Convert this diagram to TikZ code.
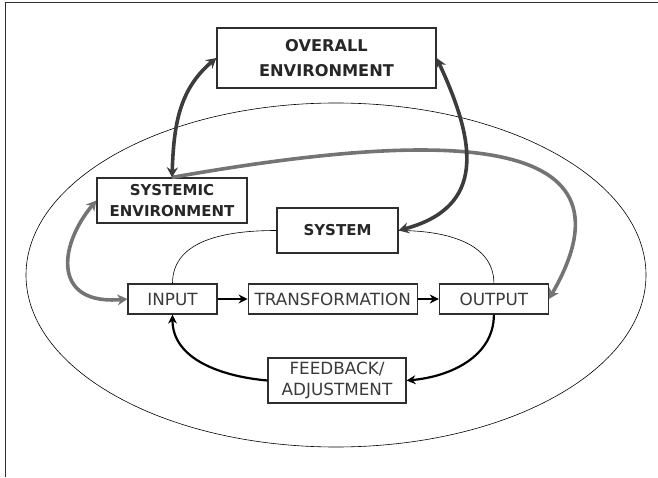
\documentclass[tikz,border=0pt]{standalone}
\usepackage{fontspec}
\setmainfont{DejaVu Sans}
\usepackage{xcolor}
\usepackage{tikz}
\usetikzlibrary{arrows.meta,positioning}

\definecolor{boxline}{HTML}{2E2E2E}
\definecolor{labeltext}{HTML}{3A3A3A}
\definecolor{darkarrow}{HTML}{3C3C3C}
\definecolor{lightarrow}{HTML}{747474}

\begin{document}
\begin{tikzpicture}[x=1pt, y=1pt,
			block/.style={rectangle, draw=boxline, fill=white, line width=1.2pt, inner sep=0pt,
					align=center, text=labeltext, font=\fontsize{16.8}{20.5}\selectfont},
			envblock/.style={block, text=black!85, font=\fontsize{15}{21.5}\selectfont\bfseries},
			arrow/.style={->, line width=2.2pt, >={Stealth[length=9pt, width=9pt]}},
			envarrow/.style={<->, darkarrow, line width=3.6pt, >={Stealth[length=10pt, width=11pt]}},
			sysarrow/.style={lightarrow, line width=3.6pt, >={Stealth[length=10pt, width=11pt]}}
		]
		\useasboundingbox (0,0) rectangle (658,477);
		\draw[boxline, line width=0.8pt] (5,0) -- (5,474.5) -- (658,474.5);

		% outer boundary
		\draw[line width=0.6pt] (336,202) ellipse [x radius=310, y radius=172];

		% environments
		\node[envblock, minimum width=219, minimum height=60,
			font=\fontsize{16.2}{25}\selectfont\bfseries] (overall) at (326.5,419) {OVERALL\\ENVIRONMENT};
		\node[envblock, minimum width=150, minimum height=45] (sysenv) at (172,276.5) {SYSTEMIC\\ENVIRONMENT};
		\node[envblock, minimum width=121, minimum height=45] (system) at (337.5,246.5) {SYSTEM};

		% process row
		\node[block, minimum width=89, minimum height=30] (input) at (172.5,178) {INPUT};
		\node[block, minimum width=169, minimum height=30, right=30pt of input] (transform) {TRANSFORMATION};
		\node[block, minimum width=109, minimum height=30, right=21pt of transform] (output) {OUTPUT};
		\node[block, minimum width=138, minimum height=45, font=\fontsize{16.8}{21}\selectfont] (feedback) at (337,96.5) {FEEDBACK/\\ADJUSTMENT};

		% system boundary
		\draw[line width=0.6pt] (input.north) to[out=90, in=180] (system.west);
		\draw[line width=0.6pt] (system.east) to[out=0, in=90] (output.north);

		% Connections
		\draw[sysarrow, ->] (sysenv.north) .. controls +(10:260) and +(60:200) .. (output.east);
		\draw[sysarrow, <->] (sysenv.west) .. controls +(230:60) and +(185:75) .. (input.west);
		\draw[envarrow] (sysenv.north) to[out=88, in=220] (overall.west);
		\draw[envarrow] (overall.east) .. controls +(-65:95) and +(15:90) .. (system.east);
		\draw[arrow] (input) -- (transform);
		\draw[arrow] (transform) -- (output);
		\draw[arrow] (output.south) to[out=-90, in=5] (feedback.east);
		\draw[arrow] (feedback.west) to[out=175, in=-90] (input.south);
	\end{tikzpicture}
\end{document}
